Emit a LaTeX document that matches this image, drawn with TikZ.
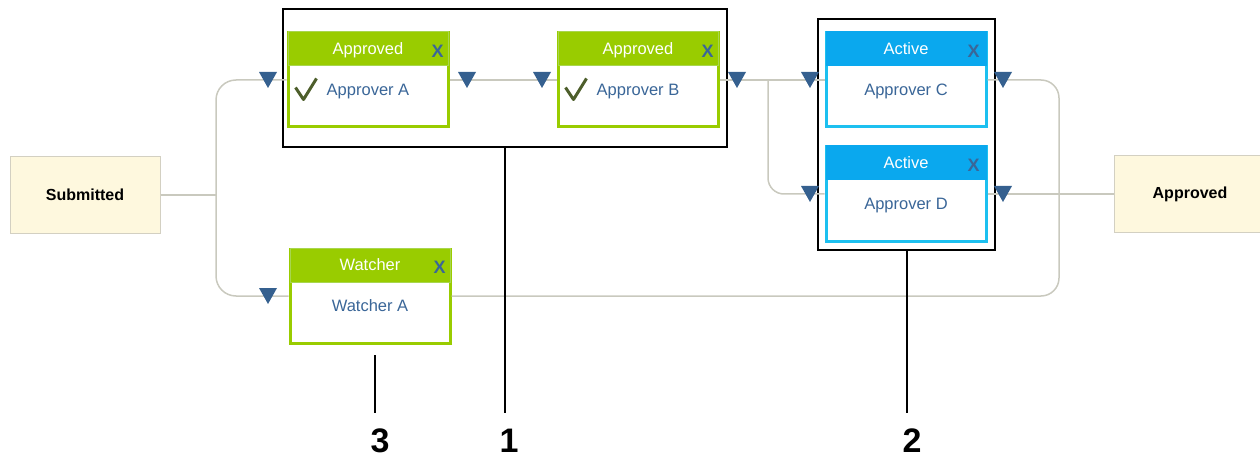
\documentclass[tikz,border=0pt]{standalone}
\usepackage{fontspec}
\setmainfont{Liberation Sans}
\usetikzlibrary{calc}

\definecolor{okgreen}{HTML}{99CC00}
\definecolor{okgreenedge}{HTML}{A8D64E}
\definecolor{actblue}{HTML}{0AA8EE}
\definecolor{actblueedge}{HTML}{1CC0F0}
\definecolor{labblue}{HTML}{3A6698}
\definecolor{markblue}{HTML}{35608F}
\definecolor{flowgray}{HTML}{C9C9BE}
\definecolor{statefill}{HTML}{FEF8DE}
\definecolor{stateedge}{HTML}{D3D0C2}
\definecolor{checkgreen}{HTML}{4D5E2B}

\begin{document}
\begin{tikzpicture}[x=1pt,y=-1pt,
  card/.style={rectangle, minimum width=160pt, minimum height=94pt, inner sep=0pt,
    fill=white, draw=#1, line width=3pt},
  head/.style={rectangle, minimum width=160pt, minimum height=34pt, inner sep=0pt,
    text height=12pt, text depth=1pt,
    fill=#1, line width=1pt, text=white, anchor=north,
    font=\fontsize{16.5}{18}\selectfont},
  bodytxt/.style={text=labblue, inner sep=0pt, anchor=base,
    font=\fontsize{16.5}{18}\selectfont},
  closex/.style={text=labblue, inner sep=0pt, font=\fontsize{18}{20}\bfseries},
  state/.style={rectangle, minimum width=150pt, minimum height=76pt, inner sep=0pt,
    fill=statefill, draw=stateedge, line width=1pt, font=\fontsize{16}{18}\bfseries},
  group/.style={rectangle, inner sep=0pt, draw=black, line width=2pt},
  flow/.style={draw=flowgray, line width=1.5pt},
  lead/.style={draw=black, line width=2pt},
  num/.style={inner sep=0pt, anchor=base, font=\fontsize{34}{40}\bfseries},
  check/.style={draw=checkgreen, line width=3pt, line join=round},
  downtri/.pic={\fill[markblue] (-9,-8) -- (9,-8) -- (0,8) -- cycle;}
]
\useasboundingbox (0,0) rectangle (1260,457);

% group frames
\node[group, minimum width=444pt, minimum height=138pt] (g1) at (505,78) {};
\node[group, minimum width=177pt, minimum height=231pt] (g2) at (906.5,134.5) {};

% start and end states
\node[state] (sub) at (85,195) {Submitted};
\node[state, minimum width=152pt] (done) at (1190,194) {Approved};

% approver and watcher cards (y grows downwards)
\node[card=okgreen] (A) at (368,80) {};
\node[head=okgreen, draw=okgreenedge] (Ah) at (A.north) {Approved};
\node[closex] (Ax) at ($(A.north east)+(-12,20)$) {X};
\node[bodytxt] (Al) at ($(A.north)+(0,64)$) {Approver A};
\draw[check] ($(A.north west)+(9,56)$) -- ++(8,12) -- ++(13,-21);

\node[card=okgreen] (B) at (638,80) {};
\node[head=okgreen, draw=okgreenedge] (Bh) at (B.north) {Approved};
\node[closex] (Bx) at ($(B.north east)+(-12,20)$) {X};
\node[bodytxt] (Bl) at ($(B.north)+(0,64)$) {Approver B};
\draw[check] ($(B.north west)+(9,56)$) -- ++(8,12) -- ++(13,-21);

\node[card=actblueedge] (C) at (906,80) {};
\node[head=actblue, draw=actblue] (Ch) at (C.north) {Active};
\node[closex] (Cx) at ($(C.north east)+(-14,20)$) {X};
\node[bodytxt] (Cl) at ($(C.north)+(0,64)$) {Approver C};

\node[card=actblueedge] (D) at (906,194) {};
\node[head=actblue, draw=actblue] (Dh) at (D.north) {Active};
\node[closex] (Dx) at ($(D.north east)+(-14,20)$) {X};
\node[bodytxt] (Dl) at ($(D.north)+(0,64)$) {Approver D};

\node[card=okgreen] (W) at (370,296) {};
\node[head=okgreen, draw=okgreenedge] (Wh) at (W.north) {Watcher};
\node[closex] (Wx) at ($(W.north east)+(-12,20)$) {X};
\node[bodytxt] (Wl) at ($(W.north)+(0,64)$) {Watcher A};

% junction points of the flow lines
\coordinate (jl) at (216,195);
\coordinate (jb) at (768,80);
\coordinate (jr) at (1059,190);

% flow lines
\draw[flow] (sub.east) -- (jl);
\draw[flow, rounded corners=20pt] (A.west) -| (jl) |- (W.west);
\draw[flow] (A.east) -- (B.west);
\draw[flow] (B.east) -- (C.west);
\draw[flow, rounded corners=16pt] (jb) |- (D.west);
\draw[flow, rounded corners=18pt] (C.east) -| (jr) |- (W.east);
\draw[flow] (D.east) -- (done.west);

% direction markers
\pic at (268,80) {downtri};
\pic at (268,296) {downtri};
\pic at (467,80) {downtri};
\pic at (542,80) {downtri};
\pic at (737,80) {downtri};
\pic at (810,80) {downtri};
\pic at (810,194) {downtri};
\pic at (1003,80) {downtri};
\pic at (1003,194) {downtri};

% callout numbers
\node[num] (n3) at (380,452) {3};
\node[num] (n1) at (509,452) {1};
\node[num] (n2) at (912,452) {2};
\coordinate (l3a) at (375,355);
\coordinate (l3b) at (375,413);
\coordinate (l1) at (505,413);
\coordinate (l2) at (906.5,413);
\draw[lead] (l3a) -- (l3b);
\draw[lead] (g1.south) -- (l1);
\draw[lead] (g2.south) -- (l2);
\end{tikzpicture}
\end{document}
